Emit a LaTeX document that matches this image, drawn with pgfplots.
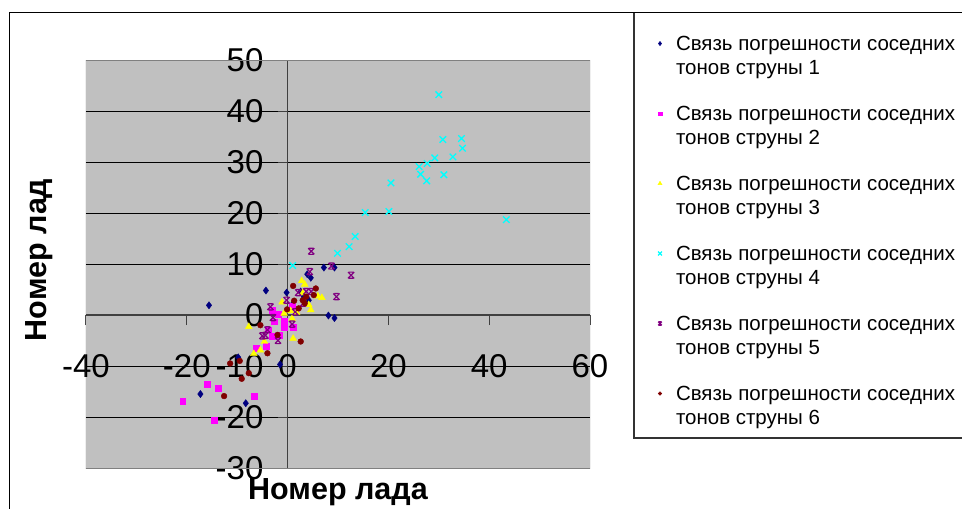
\documentclass[border=0pt]{standalone}
\usepackage{fontspec}
\setmainfont{Liberation Sans}
\usepackage{pgfplots}
\pgfplotsset{compat=1.18}
\definecolor{bgray}{HTML}{C0C0C0}
\definecolor{s1}{HTML}{000080}
\definecolor{s2}{HTML}{FF00FF}
\definecolor{s3}{HTML}{FFFF00}
\definecolor{s4}{HTML}{00FFFF}
\definecolor{s5}{HTML}{800080}
\definecolor{s6}{HTML}{800000}
\pgfdeclareplotmark{starx}{%
  \pgfpathmoveto{\pgfqpoint{-\pgfplotmarksize}{-\pgfplotmarksize}}%
  \pgfpathlineto{\pgfqpoint{\pgfplotmarksize}{\pgfplotmarksize}}%
  \pgfpathmoveto{\pgfqpoint{-\pgfplotmarksize}{\pgfplotmarksize}}%
  \pgfpathlineto{\pgfqpoint{\pgfplotmarksize}{-\pgfplotmarksize}}%
  \pgfpathmoveto{\pgfqpoint{-0.7\pgfplotmarksize}{\pgfplotmarksize}}%
  \pgfpathlineto{\pgfqpoint{0.7\pgfplotmarksize}{\pgfplotmarksize}}%
  \pgfpathmoveto{\pgfqpoint{-0.7\pgfplotmarksize}{-\pgfplotmarksize}}%
  \pgfpathlineto{\pgfqpoint{0.7\pgfplotmarksize}{-\pgfplotmarksize}}%
  \pgfusepathqstroke}
\newcommand{\leg}[1]{\smash{\begin{tabular}[t]{@{}l@{}}Связь погрешности соседних\\тонов струны #1\end{tabular}}}
\begin{document}
\begin{tikzpicture}
\useasboundingbox (0pt,0pt) rectangle (962pt,509pt);
\fill[white] (0pt,0pt) rectangle (962pt,509pt);
\begin{axis}[
  at={(86pt,41pt)}, anchor=south west,
  scale only axis, width=504pt, height=408pt,
  xmin=-40, xmax=60, ymin=-30, ymax=50,
  axis lines=middle,
  axis line style={-, black!75, line width=1.2pt},
  xtick={-40,-20,0,20,40,60},
  ytick={-30,-20,-10,0,10,20,30,40,50},
  hide obscured x ticks=false, hide obscured y ticks=false,
  tick align=outside, major tick length=10pt,
  tick style={black!75, line width=1pt},
  ymajorgrids, grid style={black, line width=0.8pt},
  axis background/.style={fill=bgray},
  /pgf/number format/assume math mode=true,
  tick label style={font=\fontsize{33}{33}\selectfont, inner sep=0pt},
  xticklabel style={anchor=center, yshift=-41pt},
  yticklabel style={anchor=east, xshift=-14pt},
  legend cell align=left,
  legend style={at={(axis description cs:1.13095,1.0490)}, anchor=north west,
    draw=none, fill=none, inner sep=0pt, outer sep=0pt,
    row sep=50pt, column sep=12pt,
    nodes={inner sep=0pt, outer sep=0pt, anchor=base west},
    font=\fontsize{20.5}{24}\selectfont},
  legend image code/.code={\path[draw=none, fill=none] (0pt,-10pt) rectangle (8pt,10pt);
    \draw[#1, every mark/.append style={scale=0.6}] plot coordinates {(4pt,6.5pt)};},
  every axis x label/.style={at={(axis description cs:0.5,-0.0784)}, anchor=base},
  every axis y label/.style={at={(axis description cs:-0.0774,0.51)}, rotate=90, anchor=base},
  label style={font=\fontsize{30.5}{30.5}\selectfont\bfseries},
  xlabel={Номер лада}, ylabel={Номер лад},
]
\addplot[only marks, color=s1, mark=diamond*, mark size=3.6pt] coordinates {
(-15.6,1.9) (-4.3,4.8) (-0.2,4.4) (3.9,8.0) (4.6,7.3) (7.2,9.3) (9.3,9.3)
(8.1,-0.1) (9.3,-0.6) (-9.8,-8.3) (-1.5,-9.7) (-17.3,-15.5) (-8.3,-17.3)
(3.2,3.6) (4.2,2.9) (2.6,4.6) (0.9,2.0)};
\addlegendentry{\leg{1}}
\addplot[only marks, color=s2, mark=square*, mark size=2.9pt] coordinates {
(-3.1,1.0) (-2.7,-1.3) (-0.6,-1.2) (-0.7,-2.5) (1.1,-2.4) (0.9,1.8) (-3.0,-4.1)
(-3.9,-2.9) (-1.6,-3.9) (-6.3,-6.5) (-4.3,-6.1) (-16.0,-13.6) (-13.7,-14.3)
(-6.7,-15.9) (-20.8,-16.9) (-14.5,-20.7) (-1.9,0.2)};
\addlegendentry{\leg{2}}
\addplot[only marks, color=s3, mark=triangle*, mark size=3.9pt] coordinates {
(-7.7,-2.3) (-4.6,-5.2) (-5.4,-6.9) (-6.7,-7.6) (1.1,-4.6) (0.9,-0.7) (-1.1,2.5)
(0.6,0.8) (1.8,0.5) (2.8,6.7) (3.4,6.0) (4.6,1.0) (4.2,2.0) (6.0,3.7) (6.8,3.4)
(-0.7,0.3) (3.0,4.3)};
\addlegendentry{\leg{3}}
\addplot[only marks, color=s4, mark=x, mark size=4.6pt, line width=1.3pt] coordinates {
(30.0,43.2) (30.8,34.4) (34.5,34.6) (34.7,32.7) (32.8,31.0) (29.2,30.8) (27.7,29.7)
(26.1,29.1) (26.4,27.6) (31.0,27.5) (27.6,26.3) (20.5,25.9) (15.4,20.1) (20.1,20.3)
(43.4,18.7) (13.4,15.4) (12.2,13.4) (9.9,12.1) (1.0,9.7)};
\addlegendentry{\leg{4}}
\addplot[only marks, color=s5, mark=starx, mark size=3.1pt, line width=1.2pt] coordinates {
(4.7,12.5) (8.7,9.6) (12.6,7.8) (9.7,3.6) (4.4,8.5) (2.1,4.4) (3.7,4.6) (4.7,4.6)
(-0.2,2.9) (-3.4,1.6) (-2.9,-0.5) (1.5,0.6) (0.9,-1.8) (-4.0,-2.9) (-5.0,-4.1)
(-1.9,-5.0) (3.1,2.3) (-4.4,-4.0)};
\addlegendentry{\leg{5}}
\addplot[only marks, color=s6, mark=*, mark size=2.9pt] coordinates {
(1.1,5.7) (5.6,5.2) (1.3,2.8) (-0.1,1.1) (2.2,1.3) (3.0,2.9) (3.7,3.6) (5.2,3.9)
(3.4,2.3) (-5.4,-2.0) (-2.0,-3.9) (2.6,-5.2) (-4.0,-7.5) (-11.4,-9.5) (-9.5,-9.0)
(-9.1,-12.5) (-7.7,-11.4) (-12.6,-15.9)};
\addlegendentry{\leg{6}}
\draw[black!50, line width=1pt] (rel axis cs:0,0) rectangle (rel axis cs:1,1);
\end{axis}
\draw[black, line width=1pt] (9pt,-5pt) -- (9pt,496pt) -- (980pt,496pt);
\draw[black!80, line width=1.2pt] (634pt,496pt) -- (634pt,71pt) -- (980pt,71pt);
\end{tikzpicture}
\end{document}
